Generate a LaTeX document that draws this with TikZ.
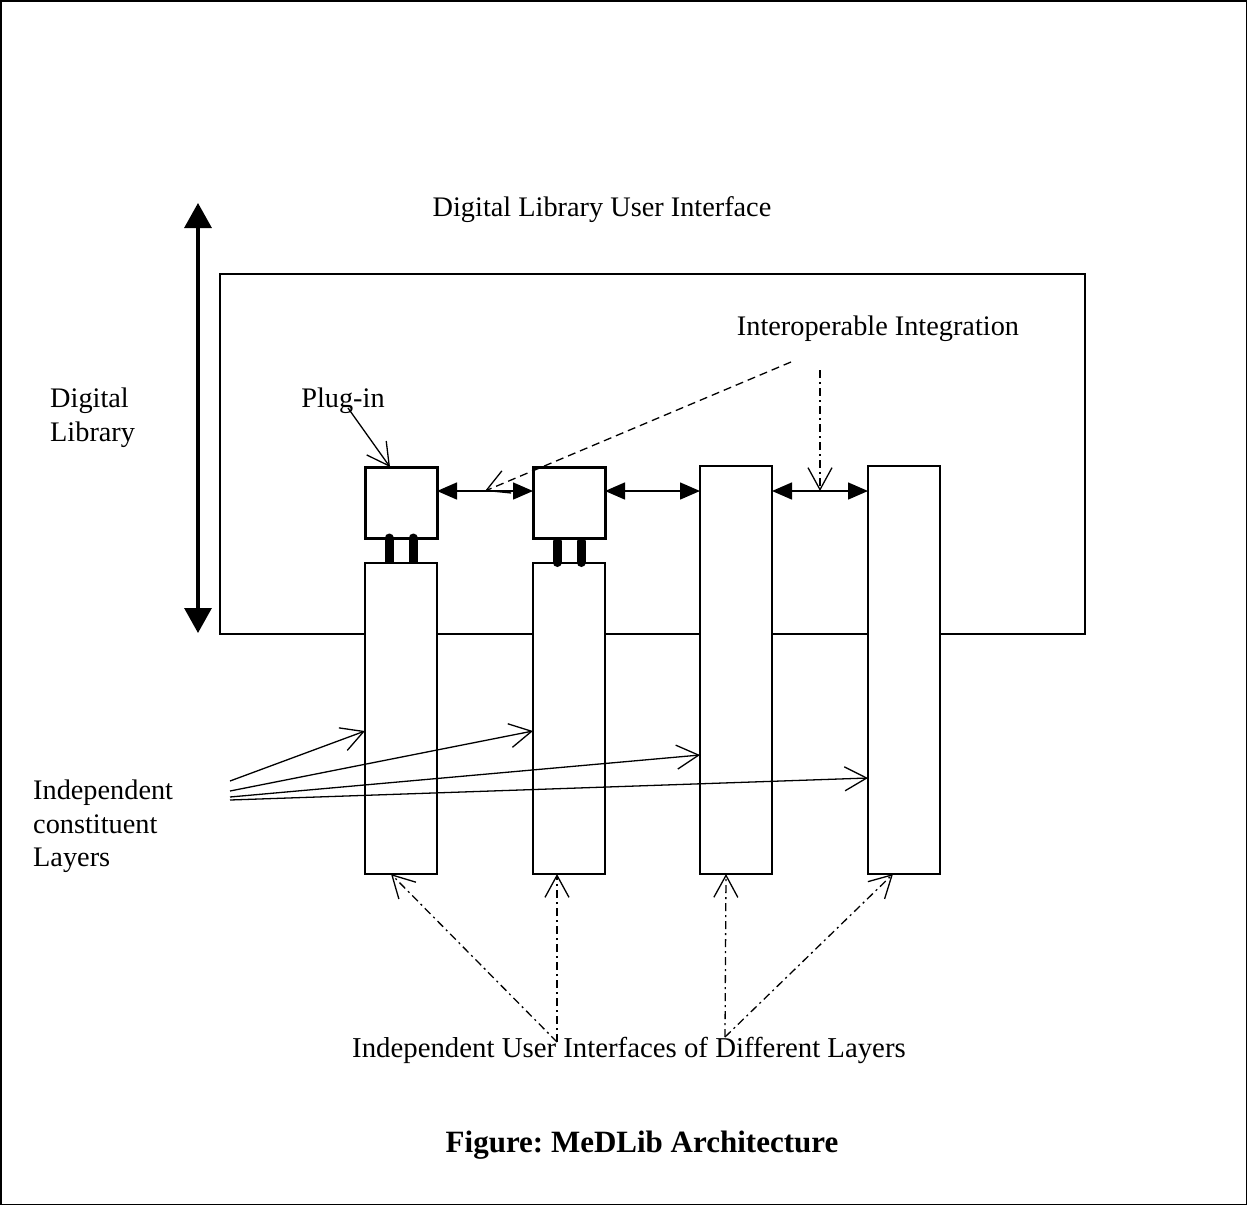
\documentclass[tikz,border=0pt]{standalone}
\usepackage{fontspec}
\setmainfont{Liberation Serif}
\frenchspacing
\usetikzlibrary{arrows.meta,calc}
\begin{document}
\begin{tikzpicture}[x=1pt,y=-1pt,
  txt/.style={inner sep=0pt, font=\fontsize{28.3}{34}\selectfont},
  ttl/.style={inner sep=0pt, font=\fontsize{31}{36}\selectfont\bfseries},
  layerbox/.style={draw, line width=1.3pt, fill=white, minimum width=72pt, inner sep=0pt, outer sep=0pt},
  plugbox/.style={draw, line width=3pt, fill=white, minimum width=72pt, minimum height=71pt, inner sep=0pt, outer sep=0pt},
  framebox/.style={draw, line width=1.3pt, minimum width=865pt, minimum height=360pt, inner sep=0pt, outer sep=0pt},
  pin/.style={line width=9pt, line cap=round},
  dblhead/.style={line width=1.5pt, {Triangle[length=20pt,width=17pt]}-{Triangle[length=20pt,width=17pt]}},
  bigarrow/.style={line width=3.3pt, {Triangle[length=25pt,width=27pt]}-{Triangle[length=25pt,width=27pt]}},
  openarrow/.style={line width=1.3pt, -{Straight Barb[length=22pt,width=24pt]}},
  dashline/.style={dash pattern=on 8pt off 5pt},
  dashdotline/.style={dash pattern=on 8pt off 4pt on 2pt off 4pt},
]
\useasboundingbox (0,0) rectangle (1247,1205);
\draw[line width=1.5pt] (0.75,0.75) rectangle (1246.25,1204.25);

% frame of the digital library
\node[framebox] (frame) at (652.5,454) {};

% plug-in 1 and its pins
\node[plugbox] (P1) at (401,502.5) {};
\draw[pin] ($(P1.south)+(-12,0)$) -- ($(P1.south)+(-12,30)$);
\draw[pin] ($(P1.south)+(12,0)$) -- ($(P1.south)+(12,30)$);

% layers
\node[layerbox, minimum height=311pt] (L1) at (401,718.5) {};
\node[layerbox, minimum height=311pt] (L2) at (569,718.5) {};
\node[layerbox, minimum height=408pt] (L3) at (736,670) {};
\node[layerbox, minimum height=408pt] (L4) at (904,670) {};

% plug-in 2 and its pins
\node[plugbox] (P2) at (569,502.5) {};
\draw[pin] ($(P2.south)+(-12,3.5)$) -- ($(L2.north)+(-12,-0.5)$);
\draw[pin] ($(P2.south)+(12,3.5)$) -- ($(L2.north)+(12,-0.5)$);

% horizontal double arrows
\coordinate (a1s) at ([yshift=11.5pt]P1.east);
\coordinate (a2s) at ([yshift=11.5pt]P2.east);
\coordinate (a3s) at ([yshift=179pt]L3.east);
\draw[dblhead] (a1s) -- coordinate[pos=0.5] (m1) (a1s -| P2.west);
\draw[dblhead] (a2s) -- (a2s -| L3.west);
\draw[dblhead] (a3s) -- coordinate[pos=0.5] (m3) (a3s -| L4.west);

% big vertical arrow
\coordinate (vt) at (198,203);
\coordinate (vb) at (198,633);
\draw[bigarrow] (vt) -- (vb);

% texts
\node[txt] (dlui) at (602,210) {Digital Library User Interface};
\node[txt] (ii) at (878,329) {Interoperable Integration};
\node[txt] (plug) at (343,401) {Plug-in};
\node[txt, align=left, anchor=west] (dl) at (50,418) {Digital\\Library};
\node[txt, align=left, anchor=west, font=\fontsize{28.3}{33.5}\selectfont] (icl) at (33,826.5) {Independent\\constituent\\Layers};
\node[txt, font=\fontsize{28.8}{34}\selectfont] (iui) at (629,1050) {Independent User Interfaces of Different Layers};
\node[ttl] (title) at (642,1145) {Figure: MeDLib Architecture};

% plug-in pointer
\coordinate (pl) at (348,408);
\draw[openarrow] (pl) -- ([xshift=-11pt]P1.north);

% interoperable integration pointers
\coordinate (ii1) at (791,362);
\coordinate (ii2) at (820,370);
\draw[openarrow, dashline] (ii1) -- (m1);
\draw[openarrow, dashdotline] (ii2) -- (m3);

% independent constituent layers pointers
\coordinate (s1) at (230,781);
\coordinate (s2) at (230,791);
\coordinate (s3) at (230,797);
\coordinate (s4) at (230,800);
\draw[openarrow] (s1) -- ([yshift=-12.5pt]L1.west);
\draw[openarrow] (s2) -- ([yshift=-12.5pt]L2.west);
\draw[openarrow] (s3) -- ([yshift=-85pt]L3.west);
\draw[openarrow] (s4) -- ([yshift=-108pt]L4.west);

% independent user interfaces pointers
\coordinate (u1) at (557,1042);
\coordinate (u2) at (725,1037);
\draw[openarrow, dashdotline] (u1) -- ([xshift=-10pt]L1.south);
\draw[openarrow, dashdotline] (u1) -- ([xshift=-12pt]L2.south);
\draw[openarrow, dashdotline] (u2) -- ([xshift=-10pt]L3.south);
\draw[openarrow, dashdotline] (u2) -- ([xshift=-11pt]L4.south);
\end{tikzpicture}
\end{document}
